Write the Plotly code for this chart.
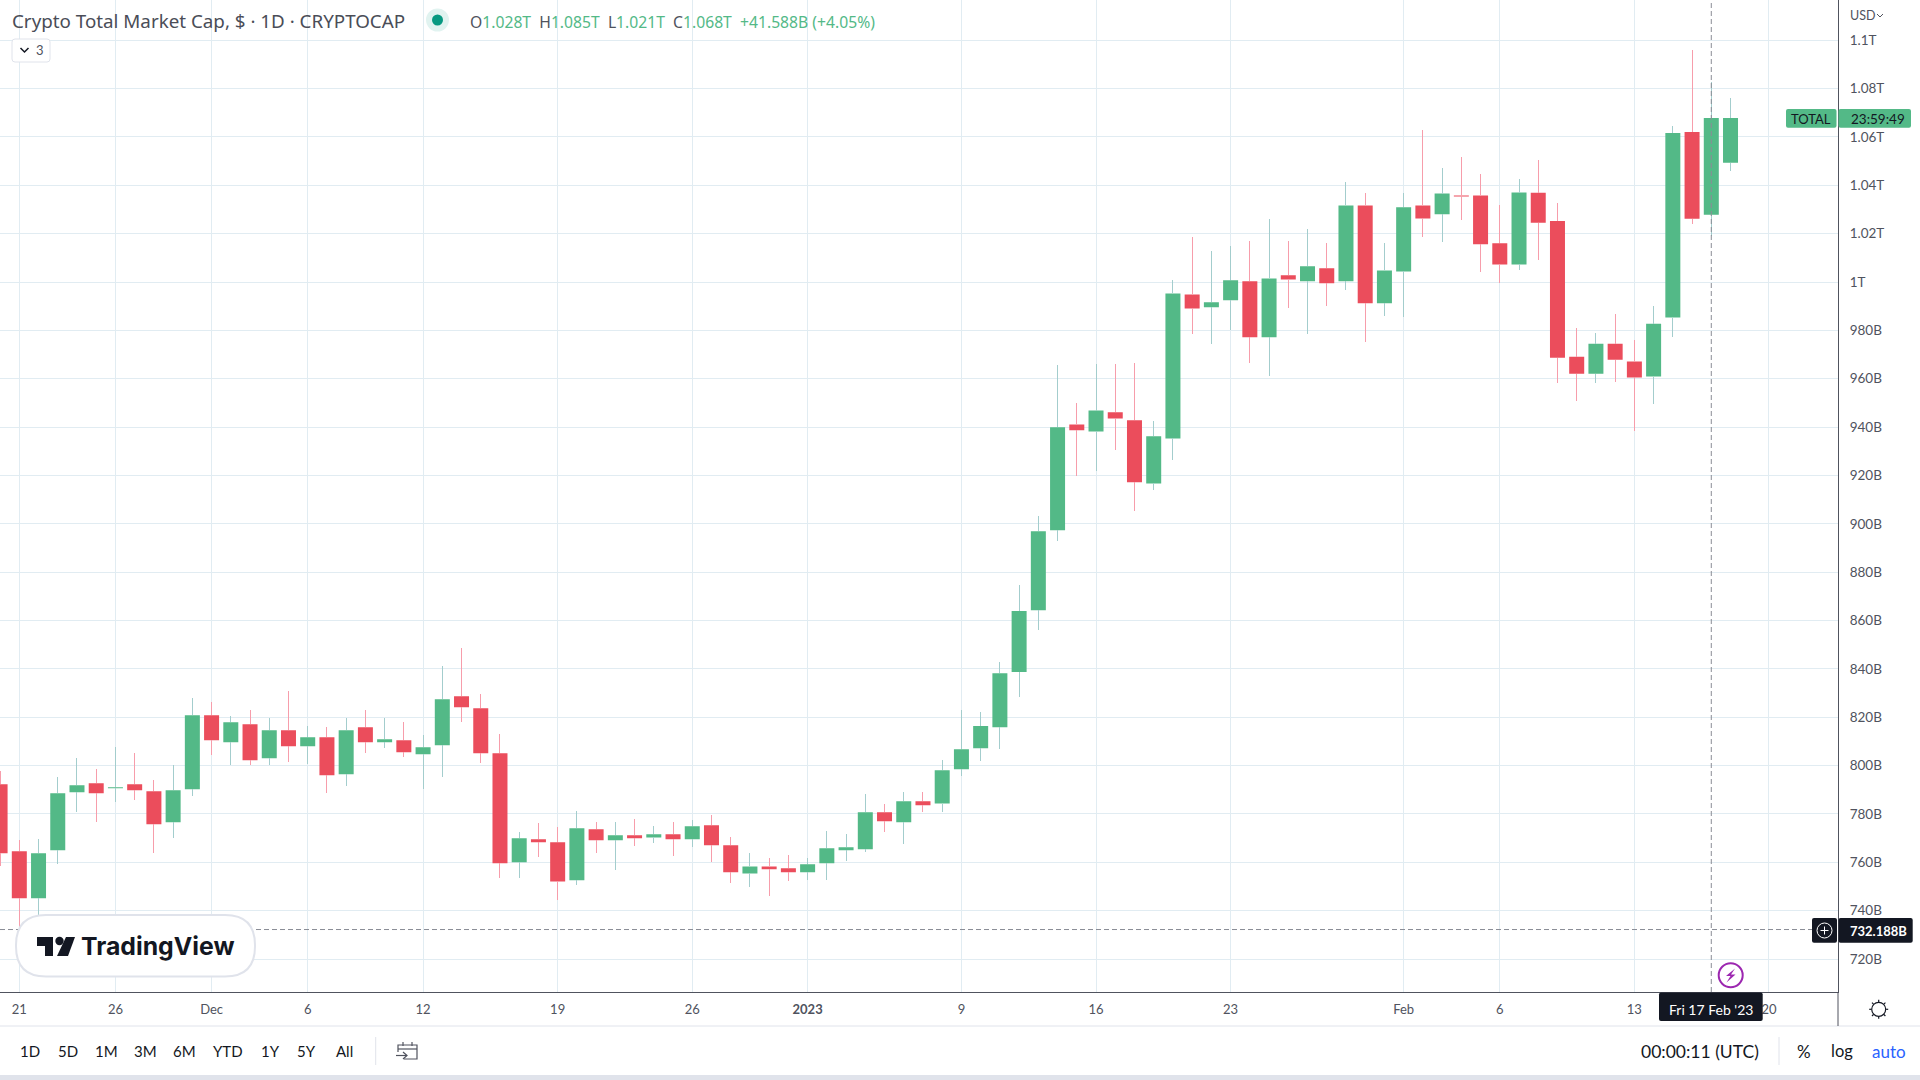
import pandas as pd
import plotly.graph_objects as go

# TOTAL market cap in billions of USD
dates = pd.date_range("2022-11-20", "2023-02-18", freq="D")

opens = [
    792.3, 764.6, 745.1, 765.0, 789.0, 792.7, 790.6, 792.3, 789.4, 776.6, 790.2,
    820.8, 809.7, 817.1, 803.0, 814.6, 808.0, 811.7, 796.4, 815.9, 809.7, 810.5,
    804.7, 808.4, 828.7, 823.7, 805.1, 760.0, 769.5, 768.3, 752.6, 773.7, 769.1,
    771.2, 770.3, 771.6, 769.5, 775.3, 767.0, 755.4, 758.3, 757.5,
    755.9, 759.6, 765.0, 765.4, 780.7, 776.6, 785.2, 784.3, 798.5, 807.2, 815.9,
    838.7, 864.3, 897.3, 941.1, 938.2, 946.1, 942.8, 916.7, 935.3, 994.9, 989.6,
    992.5, 1000.3, 977.2, 1002.8, 1000.3, 1005.7, 1000.3, 1031.7, 991.2,
    1004.4, 1031.7, 1028.0, 1035.8, 1035.8, 1016.0, 1007.3, 1036.9, 1025.3,
    969.1, 962.1, 974.5, 967.1, 960.9, 985.3, 1062.1, 1027.8, 1049.3,
]
highs = [
    797.7, 769.1, 769.5, 795.2, 803.0, 798.5, 807.6, 805.1, 793.9, 800.1, 827.9,
    826.2, 820.4, 822.9, 819.6, 830.8, 816.3, 815.9, 819.6, 822.9, 819.6, 817.9,
    812.6, 841.1, 848.6, 829.5, 813.0, 772.4, 776.1, 774.5, 781.1, 776.6, 776.6,
    777.8, 774.9, 776.6, 777.4, 779.4, 770.3, 763.7, 761.7, 762.9,
    761.7, 772.8, 771.6, 788.1, 784.0, 789.0, 789.0, 802.2, 823.0, 822.2, 842.8,
    874.6, 903.1, 965.5, 949.8, 965.9, 966.3, 966.7, 942.4, 1000.7, 1018.5, 1012.7,
    1014.8, 1016.8, 1025.9, 1016.8, 1021.8, 1016.0, 1041.2, 1037.0, 1016.0,
    1037.0, 1063.0, 1047.3, 1051.9, 1044.5, 1031.7, 1042.8, 1050.6, 1032.8,
    981.1, 979.1, 986.9, 976.2, 990.2, 1064.6, 1096.0, 1082.8, 1076.2,
]
lows = [
    758.3, 731.6, 738.1, 759.2, 780.7, 776.6, 784.8, 785.7, 763.7, 769.9, 787.3,
    804.3, 800.1, 800.1, 800.1, 801.4, 800.6, 788.6, 791.4, 805.1, 807.2, 803.4,
    790.2, 795.2, 817.9, 801.0, 753.4, 753.4, 762.1, 744.3, 750.5, 763.7, 756.7,
    766.6, 767.9, 762.5, 766.2, 760.0, 751.3, 749.7, 745.9, 752.1,
    752.6, 752.6, 760.4, 764.1, 772.4, 767.4, 780.7, 780.6, 795.6, 801.8, 806.8,
    828.3, 856.0, 892.8, 919.6, 921.7, 930.4, 905.2, 913.9, 926.3, 978.4, 974.3,
    980.1, 966.4, 961.0, 989.1, 978.4, 990.0, 996.6, 975.1, 985.8,
    985.4, 1018.5, 1016.4, 1025.5, 1004.0, 999.5, 1005.1, 1009.2, 958.4,
    950.6, 958.4, 958.8, 938.2, 949.7, 977.4, 1024.1, 1019.1, 1046.0,
]
closes = [
    763.7, 745.1, 763.7, 788.6, 791.9, 788.6, 791.0, 789.8, 775.7, 789.8, 820.8,
    810.5, 817.9, 802.2, 814.6, 808.0, 811.7, 796.0, 814.6, 809.7, 810.9, 805.5,
    807.6, 827.4, 824.1, 805.1, 759.6, 769.9, 768.3, 752.1, 774.1, 769.1, 771.2,
    769.9, 771.6, 769.5, 774.9, 767.0, 755.9, 758.3, 757.1, 755.9,
    759.2, 765.8, 766.2, 780.7, 777.0, 785.2, 783.6, 798.1, 806.8, 816.4, 838.2,
    863.9, 896.9, 939.9, 938.7, 946.9, 943.6, 917.2, 936.2, 995.3, 989.1, 991.6,
    1000.7, 977.2, 1001.5, 1001.1, 1006.5, 999.5, 1031.7, 991.2, 1004.8,
    1030.9, 1026.3, 1036.6, 1035.4, 1015.6, 1007.3, 1037.0, 1024.5, 968.7,
    962.1, 974.5, 967.9, 960.5, 982.8, 1061.7, 1026.2, 1067.9, 1067.9,
]

price_ticks = list(range(720, 1000, 20)) + [1000, 1020, 1040, 1060, 1080, 1100]
price_labels = [
    "720B", "740B", "760B", "780B", "800B", "820B", "840B", "860B", "880B", "900B",
    "920B", "940B", "960B", "980B", "1T", "1.02T", "1.04T", "1.06T", "1.08T", "1.1T",
]
date_ticks = [
    "2022-11-21", "2022-11-26", "2022-12-01", "2022-12-06", "2022-12-12",
    "2022-12-19", "2022-12-26", "2023-01-01", "2023-01-09", "2023-01-16",
    "2023-01-23", "2023-02-01", "2023-02-06", "2023-02-13", "2023-02-20",
]
date_labels = ["21", "26", "Dec", "6", "12", "19", "26", "<b>2023</b>", "9", "16", "23", "Feb", "6", "13", "20"]

range_buttons = [("1D", 30), ("5D", 68), ("1M", 106), ("3M", 145), ("6M", 184),
                 ("YTD", 228), ("1Y", 270), ("5Y", 306), ("All", 344)]

crosshair_date = "2023-02-17"
crosshair_price = 732.188

GREEN = "#53B987"
RED = "#EB4D5C"
GREEN_WICK = "#A3CDCD"
RED_WICK = "#F79DAB"
GRID = "#E1ECF2"
AXIS = "#50535E"
TEXT = "#50535E"
DARK = "#131722"
BORDER = "#E0E3EB"
FONT = "Lato"

W, H = 1920, 1080
PLOT_W, PLOT_H = 1838, 992


def px(x):
    return x / PLOT_W


def py(y):
    return 1 - y / PLOT_H


def path(points, close=False):
    s = "M" + " L".join(f"{px(x)},{py(y)}" for x, y in points)
    return s + " Z" if close else s


def rounded(x0, y0, x1, y1, r):
    c = lambda x, y: f"{px(x)},{py(y)}"
    return (
        f"M{c(x0 + r, y0)} L{c(x1 - r, y0)} Q{c(x1, y0)} {c(x1, y0 + r)} "
        f"L{c(x1, y1 - r)} Q{c(x1, y1)} {c(x1 - r, y1)} L{c(x0 + r, y1)} "
        f"Q{c(x0, y1)} {c(x0, y1 - r)} L{c(x0, y0 + r)} Q{c(x0, y0)} {c(x0 + r, y0)} Z"
    )


def add_path(fig, d, fill=None, line=None, width=1):
    fig.add_shape(
        type="path", path=d, xref="paper", yref="paper",
        fillcolor=fill or "rgba(0,0,0,0)",
        line=dict(color=line or "rgba(0,0,0,0)", width=width if line else 0),
    )


def add_rect(fig, x0, y0, x1, y1, fill):
    fig.add_shape(
        type="rect", xref="paper", yref="paper",
        x0=px(x0), x1=px(x1), y0=py(y1), y1=py(y0),
        fillcolor=fill, line=dict(width=0),
    )


def add_circle(fig, cx, cy, r, fill=None, line=None, width=1):
    fig.add_shape(
        type="circle", xref="paper", yref="paper",
        x0=px(cx - r), x1=px(cx + r), y0=py(cy + r), y1=py(cy - r),
        fillcolor=fill or "rgba(0,0,0,0)",
        line=dict(color=line or "rgba(0,0,0,0)", width=width if line else 0),
    )


def add_text(fig, x, y, text, size=13, color=TEXT, anchor="center", family=FONT):
    fig.add_annotation(
        x=px(x), y=py(y), xref="paper", yref="paper", text=text, showarrow=False,
        xanchor=anchor, yanchor="middle", borderpad=0,
        font=dict(size=size, color=color, family=family),
    )


def wick_segments(color_test):
    xs, ys = [], []
    for d, o, h, l, c in zip(dates, opens, highs, lows, closes):
        if color_test(o, c):
            xs += [d, d, None, d, d, None]
            ys += [max(o, c), h, None, min(o, c), l, None]
    return xs, ys


fig = go.Figure()

# wicks are lighter than the bodies, so they get their own traces
for test, color in [(lambda o, c: c >= o, GREEN_WICK), (lambda o, c: c < o, RED_WICK)]:
    wx, wy = wick_segments(test)
    fig.add_trace(go.Scatter(x=wx, y=wy, mode="lines", line=dict(color=color, width=1), hoverinfo="skip"))

fig.add_trace(
    go.Candlestick(
        x=dates, open=opens, high=highs, low=lows, close=closes,
        increasing=dict(line=dict(color=GREEN, width=0), fillcolor=GREEN),
        decreasing=dict(line=dict(color=RED, width=0), fillcolor=RED),
    )
)

fig.update_layout(
    width=W, height=H,
    margin=dict(l=0, r=W - PLOT_W, t=0, b=H - PLOT_H, pad=0),
    paper_bgcolor="white", plot_bgcolor="white",
    showlegend=False, boxgap=0.22, boxgroupgap=0,
    font=dict(family=FONT, size=13, color=TEXT),
)
fig.update_xaxes(
    type="date", range=["2022-11-19 23:54", "2023-02-23 14:10"],
    rangeslider_visible=False, tickvals=date_ticks, ticktext=date_labels, tickangle=0,
    showgrid=True, gridcolor=GRID, gridwidth=1, zeroline=False,
    showline=True, linecolor=AXIS, linewidth=1, ticks="", ticklabelstandoff=5,
    tickfont=dict(size=13, color=TEXT, family=FONT), automargin=False,
)
fig.update_yaxes(
    side="right", range=[706.35, 1116.66],
    tickvals=price_ticks, ticktext=price_labels,
    showgrid=True, gridcolor=GRID, gridwidth=1, zeroline=False,
    showline=True, linecolor=AXIS, linewidth=1, ticks="", ticklabelstandoff=8,
    tickfont=dict(size=13.5, color=TEXT, family=FONT), automargin=False,
)

# crosshair
fig.add_shape(type="line", xref="paper", yref="y", x0=0, x1=px(1812), y0=crosshair_price, y1=crosshair_price,
              line=dict(color="#8A8D96", width=1, dash="5px,3px"))
fig.add_shape(type="line", xref="x", yref="paper", x0=crosshair_date, x1=crosshair_date, y0=0, y1=1,
              line=dict(color="#8A8D96", width=1, dash="5px,3px"))

# header
add_text(fig, 11, 21, "Crypto Total Market Cap, $ · 1D · CRYPTOCAP", size=18.8, color="#4A4D57", anchor="left", family="Noto Sans")
add_circle(fig, 437.5, 20, 11.5, fill="rgba(8,153,129,0.12)")
add_circle(fig, 437.5, 20, 5.5, fill="#089981")
g = f'<span style="color:{GREEN}">'
add_text(
    fig, 469, 22,
    f"O{g}1.028T</span>  H{g}1.085T</span>  L{g}1.021T</span>  C{g}1.068T</span>  {g}+41.588B (+4.05%)</span>",
    size=15.7, color=TEXT, anchor="left", family="Noto Sans",
)
add_path(fig, rounded(12, 39, 50, 62, 3), fill="white", line=BORDER)
add_path(fig, path([(20.5, 48), (24.5, 52), (28.5, 48)]), line=DARK, width=1.5)
add_text(fig, 40, 50, "3", size=13, color=TEXT)

# price axis extras
add_text(fig, 1849, 16, "USD", size=12.5, color=TEXT, anchor="left")
add_path(fig, path([(1877, 14), (1880, 17), (1883, 14)]), line=TEXT, width=1)
add_path(fig, rounded(1786, 109, 1836.5, 127.7, 2), fill=GREEN)
add_path(fig, rounded(1838.5, 109, 1911, 127.7, 2), fill=GREEN)
add_text(fig, 1811, 118.5, "TOTAL", size=13, color=DARK)
add_text(fig, 1850, 118.5, "23:59:49", size=13.5, color=DARK, anchor="left")

add_path(fig, rounded(1812, 918, 1837, 942.7, 2), fill=DARK)
add_circle(fig, 1824.5, 930.5, 7.5, line="white", width=1)
add_path(fig, path([(1820.5, 930.5), (1828.5, 930.5)]), line="white")
add_path(fig, path([(1824.5, 926.5), (1824.5, 934.5)]), line="white")
add_path(fig, rounded(1838.5, 918, 1912.7, 942.7, 2), fill=DARK)
add_text(fig, 1849, 930.5, "<b>732.188B</b>", size=13, color="white", anchor="left")

# date label
add_path(fig, rounded(1659, 992.5, 1762.7, 1021, 2), fill=DARK)
add_text(fig, 1711, 1009, "Fri 17 Feb '23", size=14, color="white")

# lightning marker
add_circle(fig, 1730.7, 975.3, 12, fill="white", line="#9C27B0", width=2)
add_path(fig, path([(1735, 968.5), (1726, 976), (1730.5, 976), (1726.5, 982.5), (1735.5, 974.5), (1731, 974.5)], close=True), fill="#9C27B0")

# logo
add_path(fig, rounded(16, 915, 255, 976.5, 30), fill="white", line=BORDER, width=2)
add_path(fig, path([(37, 937), (53, 937), (53, 956), (45, 956), (45, 946), (37, 946)], close=True), fill=DARK)
add_circle(fig, 59.5, 941, 4.2, fill=DARK)
add_path(fig, path([(66, 937), (75, 937), (68, 956), (57, 956)], close=True), fill=DARK)
add_text(fig, 80, 946, "<b>TradingView</b>", size=24.8, color=DARK, anchor="left", family="Inter")

# bottom toolbar and gear
fig.add_shape(type="line", xref="paper", yref="paper", x0=px(0), x1=px(W), y0=py(1026), y1=py(1026),
              line=dict(color=BORDER, width=1))
fig.add_shape(type="line", xref="paper", yref="paper", x0=1, x1=1, y0=py(1026), y1=py(992),
              line=dict(color=AXIS, width=1))
add_circle(fig, 1878.7, 1009.3, 7, line=DARK, width=1.2)
for dx, dy in [(0, -9.5), (0, 9.5), (-9.5, 0), (9.5, 0), (6.7, 6.7), (-6.7, 6.7), (6.7, -6.7), (-6.7, -6.7)]:
    add_path(fig, path([(1878.7 + dx * 0.78, 1009.3 + dy * 0.78), (1878.7 + dx, 1009.3 + dy)]), line=DARK, width=1.2)

for label, x in range_buttons:
    add_text(fig, x, 1051, label, size=15, color=DARK)
add_path(fig, path([(375.7, 1037), (375.7, 1065)]), line=BORDER)
add_path(fig, path([(398, 1052), (398, 1045), (417, 1045), (417, 1059), (404, 1059)]), line=AXIS, width=1.2)
add_path(fig, path([(398, 1049), (417, 1049)]), line=AXIS, width=1.2)
add_path(fig, path([(403, 1042), (403, 1046)]), line=AXIS, width=1.2)
add_path(fig, path([(412, 1042), (412, 1046)]), line=AXIS, width=1.2)
add_path(fig, path([(396, 1055.5), (407, 1055.5)]), line=AXIS, width=1.2)
add_path(fig, path([(403, 1052), (407, 1055.5), (403, 1059)]), line=AXIS, width=1.2)

add_text(fig, 1700, 1051, "00:00:11 (UTC)", size=17.5, color=DARK)
add_path(fig, path([(1779, 1037), (1779, 1065)]), line=BORDER)
add_text(fig, 1803.7, 1051, "%", size=17, color=DARK)
add_text(fig, 1841.7, 1051, "log", size=16.5, color=DARK)
add_text(fig, 1889, 1051, "auto", size=17, color="#2962FF")
add_rect(fig, 0, 1075, W, H, BORDER)

fig.write_html(
    "out.html",
    config={"displayModeBar": False},
    post_script=(
        "document.body.style.margin='0';"
        "document.querySelectorAll('.scatterlayer path.js-line').forEach(p=>p.style.shapeRendering='crispEdges');"
    ),
)
